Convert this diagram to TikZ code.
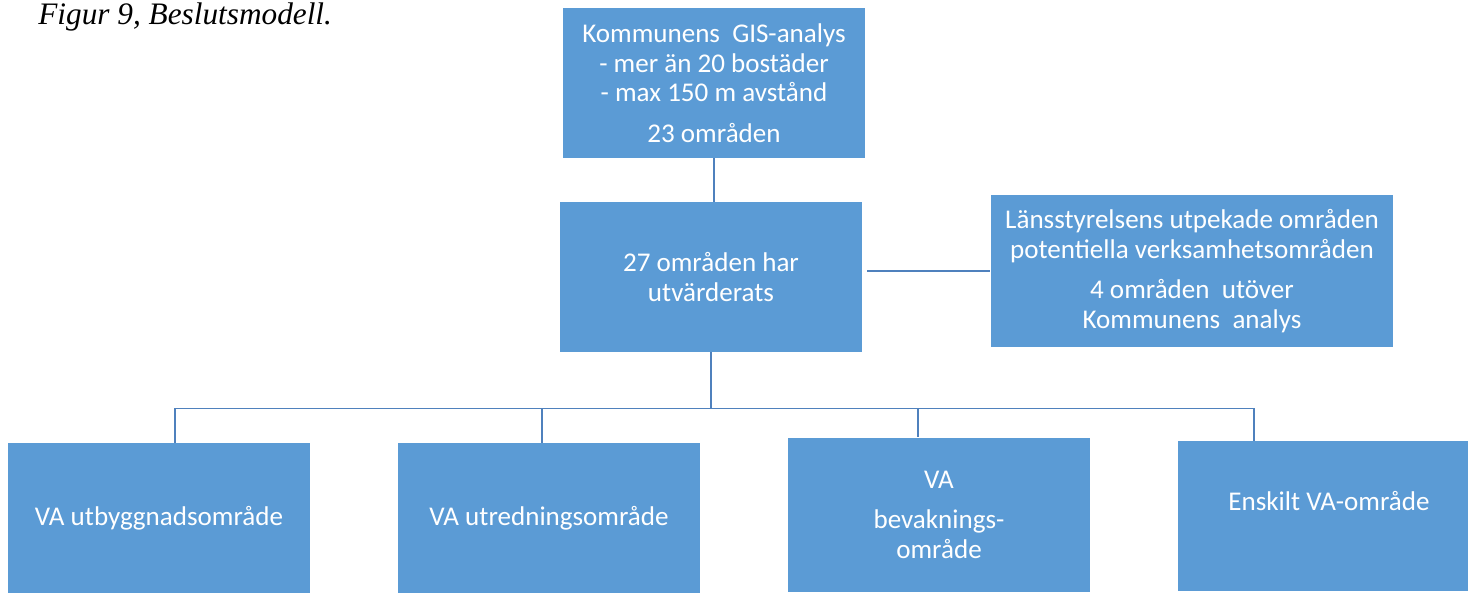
\documentclass[tikz,border=0pt]{standalone}
\usepackage{fontspec}
\newfontfamily\carlito{Carlito}
\newfontfamily\capfont{Liberation Serif}
\definecolor{boxblue}{HTML}{5B9BD5}
\definecolor{linkblue}{HTML}{4F81BD}
\begin{document}
\begin{tikzpicture}[x=0.02cm,y=-0.02cm,
box/.style={fill=boxblue,text=white,align=center,inner sep=0pt,minimum width=6.04cm,minimum height=3cm,font=\carlito\fontsize{15.4}{17}\selectfont},
link/.style={draw=linkblue,line width=0.9pt}]
\useasboundingbox(0,0)rectangle(1468,592);
\node[anchor=base west,inner sep=0pt,font=\capfont\itshape\fontsize{17.8}{20}\selectfont](cap)at(38,24){Figur 9, Beslutsmodell.};
\node[box](gis)at(714,83){Kommunens\ \ GIS-analys\\- mer än 20 bostäder\\- max 150 m avstånd\\[6pt]23 områden};
\node[box](eval)at(711,277){27 områden har\\utvärderats};
\node[box,minimum width=8.06cm,minimum height=3.04cm](lans)at(1192,271){Länsstyrelsens utpekade områden\\potentiella verksamhetsområden\\[6pt]4 områden\ \ utöver\\Kommunens\ \ analys};
\node[box](b1)at(159,518){VA utbyggnadsområde};
\node[box](b2)at(549,518){VA utredningsområde};
\node[box,minimum height=3.1cm](b3)at(939,515){VA\\[6pt]bevaknings-\\område};
\node[box](b4)at(1329,516){Enskilt VA-område\\\mbox{}};
\draw[link](gis.south)--(gis.south|-eval.north);
\draw[link]([xshift=0.1cm]eval.east|-lans.west)--(lans.west);
\draw[link](eval.south)--++(0,56)coordinate(hub);
\foreach \n/\x in {b1/175,b2/542,b3/918,b4/1254}
\draw[link](hub)-|(\x,0|-\n.north);
\end{tikzpicture}
\end{document}
